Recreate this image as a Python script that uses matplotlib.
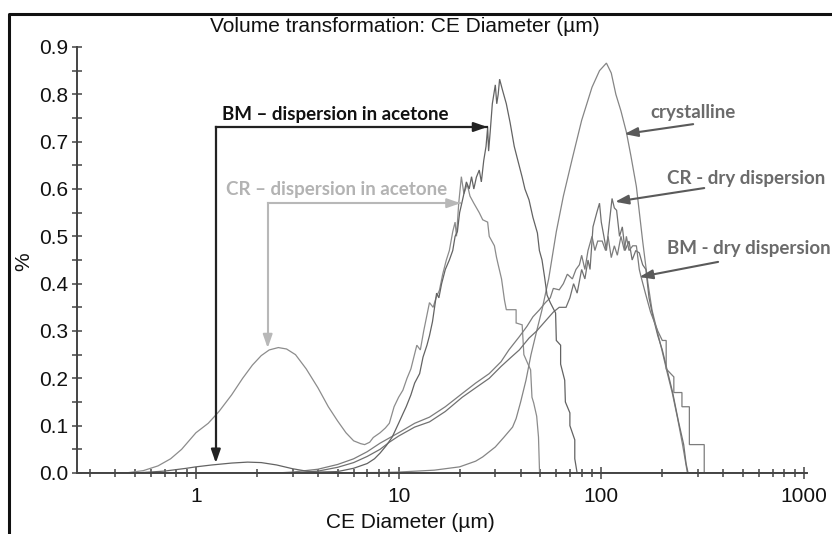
import matplotlib
matplotlib.use("Agg")
import matplotlib.pyplot as plt
import matplotlib.ticker as mticker
from matplotlib.lines import Line2D

# ---------------- data ----------------
bm_acetone_d = [0.26, 0.50, 0.70, 0.90, 1.0, 1.2, 1.5, 1.8, 2.1, 2.5, 3.0, 3.5, 4.0, 5.0, 6.0, 7.0,
                7.6, 8.1, 8.7, 9.3, 10.0, 10.5, 10.9, 11.5, 12.0, 12.7, 13.2, 13.8, 14.2, 14.7,
                15.4, 15.8, 16.3, 17.0, 17.8, 18.5, 19.0, 19.5, 20.0, 20.5, 21.0, 21.6, 22.3,
                22.9, 23.5, 24.2, 25.0, 25.6, 26.3, 27.0, 27.5, 27.8, 28.3, 29.0, 29.5, 30.0,
                30.5, 31.0, 31.5, 32.5, 34.0, 35.5, 37.2, 38.5, 40.7, 42.0, 44.0, 46.0, 48.4,
                49.5, 51.0, 52.5, 54.0, 56.0, 59.5, 60.0, 63.0, 63.0, 66.0, 66.5, 70.0, 70.0,
                74.0, 74.0, 76.0, 1000]
bm_acetone_y = [0.0, 0.0, 0.004, 0.010, 0.013, 0.017, 0.021, 0.023, 0.022, 0.017, 0.009, 0.004, 0.002, 0.003, 0.010, 0.020,
                0.030, 0.042, 0.058, 0.076, 0.105, 0.125, 0.140, 0.165, 0.190, 0.210, 0.245, 0.270, 0.290, 0.320,
                0.380, 0.370, 0.400, 0.430, 0.450, 0.470, 0.500, 0.510, 0.550, 0.570, 0.590, 0.615, 0.600,
                0.626, 0.600, 0.625, 0.640, 0.615, 0.660, 0.690, 0.730, 0.680, 0.720, 0.780, 0.800, 0.820,
                0.780, 0.800, 0.832, 0.810, 0.780, 0.740, 0.690, 0.665, 0.625, 0.600, 0.577, 0.540, 0.507,
                0.470, 0.450, 0.414, 0.376, 0.360, 0.338, 0.280, 0.270, 0.230, 0.196, 0.150, 0.127, 0.100,
                0.070, 0.030, 0.0, 0.0]

cr_acetone_d = [0.26, 0.45, 0.55, 0.65, 0.75, 0.85, 1.0, 1.15, 1.3, 1.5, 1.7, 1.9, 2.1, 2.3, 2.55, 2.8,
                3.1, 3.5, 4.0, 4.5, 5.0, 5.5, 6.0, 6.5, 6.8, 7.2, 7.5, 8.1, 8.6, 9.0, 9.5, 10.0,
                10.5, 11.0, 11.5, 12.3, 12.8, 13.3, 14.2, 14.8, 15.3, 15.9, 16.5, 17.2, 17.8, 18.5,
                19.0, 19.3, 19.8, 20.4, 21.0, 21.8, 22.5, 23.5, 25.0, 26.0, 27.5, 28.0, 29.7, 30.4,
                31.0, 32.2, 33.3, 34.0, 38.0, 38.0, 40.7, 41.5, 43.5, 44.8, 45.5, 46.4, 48.0, 49.0,
                49.6, 1000]
cr_acetone_y = [0.0, 0.0, 0.005, 0.015, 0.030, 0.050, 0.085, 0.105, 0.130, 0.165, 0.200, 0.228, 0.248, 0.260, 0.265, 0.262,
                0.250, 0.220, 0.180, 0.140, 0.110, 0.085, 0.068, 0.062, 0.060, 0.065, 0.075, 0.085, 0.095, 0.105, 0.140, 0.160,
                0.175, 0.200, 0.220, 0.270, 0.260, 0.300, 0.360, 0.350, 0.370, 0.386, 0.420, 0.450, 0.470, 0.510,
                0.530, 0.500, 0.570, 0.626, 0.590, 0.610, 0.585, 0.570, 0.550, 0.535, 0.530, 0.500, 0.480, 0.456,
                0.440, 0.410, 0.365, 0.345, 0.345, 0.317, 0.313, 0.250, 0.230, 0.218, 0.160, 0.148, 0.120, 0.076,
                0.0, 0.0]

crystalline_d = [0.26, 3.0, 5.0, 8.0, 10, 15, 20, 24, 26, 30, 33, 36.5, 38, 40, 42.5, 45, 48, 51, 55, 60,
                 65, 72, 80, 90, 98, 106, 112, 118, 125, 133, 140, 149, 160, 170, 178, 190, 199, 212,
                 224, 238, 251, 260, 266, 1000]
crystalline_y = [0.0, 0.0, 0.0005, 0.001, 0.002, 0.006, 0.013, 0.025, 0.034, 0.055, 0.075, 0.097, 0.115, 0.150, 0.196, 0.250, 0.300, 0.345, 0.410, 0.510,
                 0.585, 0.665, 0.745, 0.815, 0.850, 0.866, 0.845, 0.800, 0.765, 0.720, 0.670, 0.605, 0.490, 0.400, 0.344, 0.295, 0.260, 0.210,
                 0.169, 0.115, 0.063, 0.025, 0.0, 0.0]

cr_dry_d = [0.26, 3.0, 4.0, 5.0, 6.0, 7.0, 8.1, 9.0, 10, 12, 14.2, 17, 20.6, 24, 28, 32, 36, 39.4, 44, 48,
            53.5, 58, 62, 67, 70, 73, 76, 80, 83, 86, 88, 91, 95, 98, 100, 103, 106, 109, 113, 116,
            119, 123, 127, 131, 137, 142, 148, 154, 160, 166, 172, 180, 190, 200, 212, 225, 240, 255,
            262, 268, 1000]
cr_dry_y = [0.0, 0.0, 0.004, 0.012, 0.022, 0.035, 0.050, 0.065, 0.078, 0.097, 0.108, 0.130, 0.160, 0.180, 0.200, 0.225, 0.245, 0.260, 0.285, 0.300,
            0.323, 0.340, 0.350, 0.350, 0.370, 0.400, 0.380, 0.430, 0.410, 0.450, 0.430, 0.520, 0.550, 0.570, 0.530, 0.500, 0.470, 0.520, 0.580, 0.560,
            0.555, 0.500, 0.520, 0.470, 0.490, 0.450, 0.470, 0.465, 0.440, 0.430, 0.370, 0.330, 0.290, 0.260, 0.215, 0.170, 0.110, 0.060,
            0.020, 0.0, 0.0]

bm_dry_d = [0.26, 2.5, 3.0, 4.0, 5.0, 6.0, 7.0, 8.1, 9.0, 10, 12, 14.2, 17, 20.6, 24, 28, 32, 35, 39.4, 43,
            46, 49.6, 53, 56, 58, 62, 65, 68, 72, 75, 78, 80, 83, 86, 90, 93, 96, 101, 105, 108,
            112, 116, 120, 125, 130, 133, 137, 143, 149, 154, 157, 165, 175, 190, 200, 209, 209,
            228, 228, 250, 250, 272, 272, 322, 322, 1000]
bm_dry_y = [0.0, 0.0, 0.002, 0.008, 0.018, 0.030, 0.045, 0.063, 0.074, 0.085, 0.105, 0.118, 0.140, 0.168, 0.190, 0.210, 0.235, 0.260, 0.288, 0.310,
            0.330, 0.345, 0.360, 0.370, 0.390, 0.387, 0.400, 0.420, 0.410, 0.430, 0.440, 0.460, 0.430, 0.470, 0.500, 0.470, 0.490, 0.490, 0.470, 0.500,
            0.455, 0.480, 0.460, 0.500, 0.470, 0.500, 0.470, 0.480, 0.480, 0.430, 0.415, 0.380, 0.340, 0.300, 0.280, 0.280, 0.220,
            0.203, 0.170, 0.170, 0.140, 0.140, 0.060, 0.060, 0.0, 0.0]

x_ticks = [1, 10, 100, 1000]
x_tick_labels = ["1", "10", "100", "1000"]
y_ticks = [0.0, 0.1, 0.2, 0.3, 0.4, 0.5, 0.6, 0.7, 0.8, 0.9]

# ---------------- figure ----------------
W, H = 832, 534
fig = plt.figure(figsize=(W / 100, H / 100), dpi=100)
ax = fig.add_axes([77 / W, (H - 473) / H, (807 - 77) / W, (473 - 47) / H])

sans = ["Liberation Sans", "DejaVu Sans"]
bold_font = ["Lato", "DejaVu Sans"]

curve_kw = dict(lw=0.9, solid_joinstyle="miter")
ax.plot(cr_acetone_d, cr_acetone_y, color="#8c8c8c", **curve_kw)
ax.plot(crystalline_d, crystalline_y, color="#858585", **curve_kw)
ax.plot(cr_dry_d, cr_dry_y, color="#707070", **curve_kw)
ax.plot(bm_dry_d, bm_dry_y, color="#7c7c7c", **curve_kw)
ax.plot(bm_acetone_d, bm_acetone_y, color="#636363", **curve_kw)

ax.set_xscale("log")
ax.set_xlim(0.259, 1035)
ax.set_ylim(0, 0.9)

for s in ["top", "right"]:
    ax.spines[s].set_visible(False)
for s in ["left", "bottom"]:
    ax.spines[s].set_color("#444444")
    ax.spines[s].set_linewidth(1.4)

ax.set_yticks(y_ticks)
ax.yaxis.set_major_formatter(mticker.FormatStrFormatter("%.1f"))
ax.yaxis.set_minor_locator(mticker.MultipleLocator(0.05))
ax.set_xticks(x_ticks)
ax.set_xticklabels(x_tick_labels)
ax.xaxis.set_minor_locator(mticker.LogLocator(base=10, subs=range(2, 10), numticks=20))
ax.xaxis.set_minor_formatter(mticker.NullFormatter())

ax.tick_params(axis="both", which="both", direction="inout", colors="#444444", width=1.1,
               labelcolor="#111111", labelsize=15)
ax.tick_params(axis="y", which="major", length=7, pad=3)
ax.tick_params(axis="y", which="minor", length=7)
ax.tick_params(axis="x", which="major", length=8, pad=6)
ax.tick_params(axis="x", which="minor", length=6)
for lab in ax.get_xticklabels() + ax.get_yticklabels():
    lab.set_family(sans)


def fx(px):
    return px / W


def fy(py):
    return 1 - py / H


fig.text(fx(405), fy(27), "Volume transformation: CE Diameter (µm)", ha="center", va="center",
         fontsize=15, family=sans, color="#111111")
fig.text(fx(410), fy(522), "CE Diameter (µm)", ha="center", va="center",
         fontsize=15, family=sans, color="#111111")
fig.text(fx(24), fy(262), "%", ha="center", va="center", rotation=90,
         fontsize=15, family=sans, color="#111111")

# outer frame (left and top edges visible)
fig.add_artist(Line2D([fx(9), fx(9), fx(832)], [fy(534), fy(14), fy(14)],
                      transform=fig.transFigure, color="#111111", lw=2.2))

# ---------------- annotations ----------------
def elbow(xv, ytop, ybot, xtip, color, lw=1.5):
    ax.plot([xv, xv], [ybot + 0.012, ytop], color=color, lw=lw, clip_on=False)
    ax.plot([xv, xtip], [ytop, ytop], color=color, lw=lw, clip_on=False)
    ap = dict(arrowstyle="-|>,head_length=0.8,head_width=0.28", color=color, lw=lw,
              shrinkA=0, shrinkB=0)
    ax.annotate("", xy=(xv, ybot), xytext=(xv, ybot + 0.03), arrowprops=ap)
    ax.annotate("", xy=(xtip, ytop), xytext=(xtip / 1.08, ytop), arrowprops=ap)


elbow(1.254, 0.731, 0.021, 27.4, "#222222", lw=1.6)
ax.text(4.89, 0.758, "BM – dispersion in acetone", ha="center", va="center",
        fontsize=13.5, fontweight="bold", family=bold_font, color="#111111")

elbow(2.26, 0.570, 0.264, 20.2, "#b8b8b8", lw=1.5)
ax.text(4.95, 0.598, "CR – dispersion in acetone", ha="center", va="center",
        fontsize=13.5, fontweight="bold", family=bold_font, color="#b3b3b3")

ap2 = dict(arrowstyle="-|>,head_length=0.8,head_width=0.28", color="#5a5a5a", lw=1.5,
           shrinkA=0, shrinkB=0)
ax.annotate("", xy=(130, 0.716), xytext=(284, 0.737), arrowprops=ap2)
ax.text(174, 0.761, "crystalline", ha="left", va="center",
        fontsize=13.5, fontweight="bold", family=bold_font, color="#6b6b6b")

ax.annotate("", xy=(117, 0.573), xytext=(322, 0.602), arrowprops=ap2)
ax.text(211, 0.623, "CR - dry dispersion", ha="left", va="center",
        fontsize=13.5, fontweight="bold", family=bold_font, color="#6b6b6b")

ax.annotate("", xy=(154, 0.414), xytext=(377, 0.446), arrowprops=ap2)
ax.text(211, 0.475, "BM - dry dispersion", ha="left", va="center",
        fontsize=13.5, fontweight="bold", family=bold_font, color="#6b6b6b")

fig.savefig("out.png", dpi=100)
